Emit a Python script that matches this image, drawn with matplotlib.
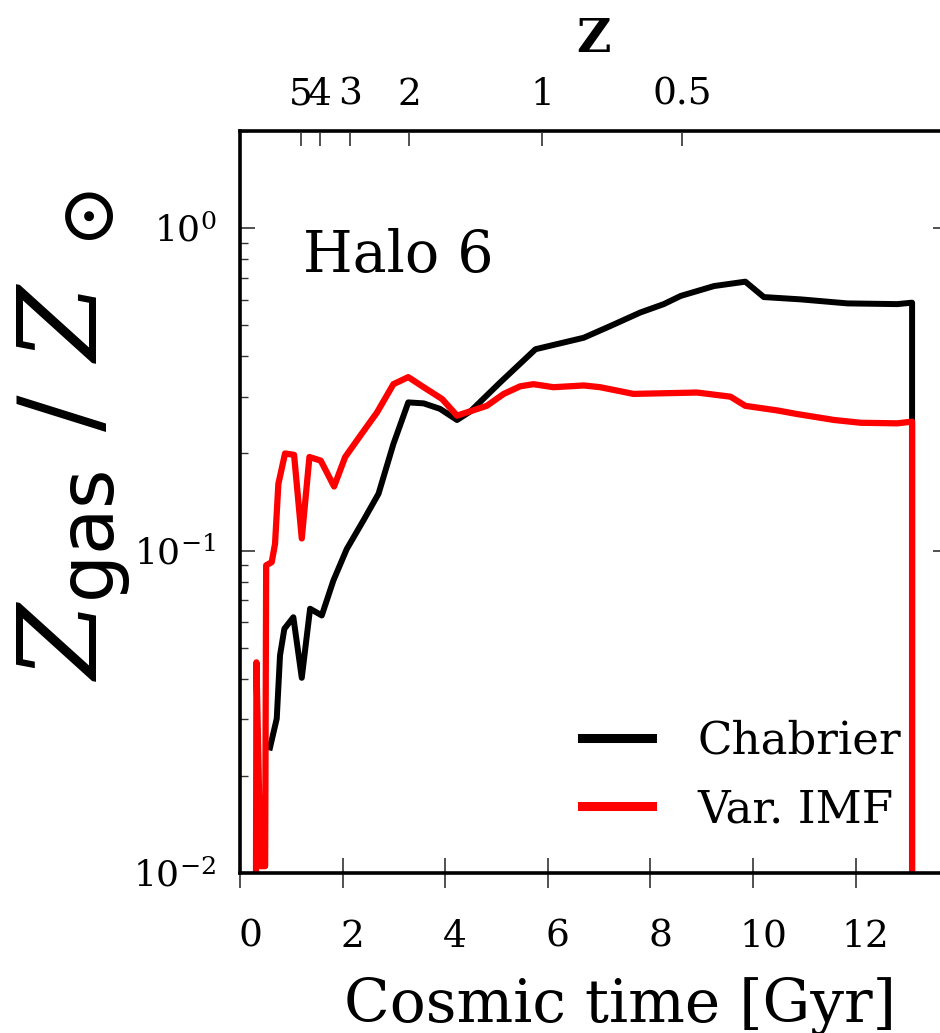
import numpy as np
import matplotlib
matplotlib.use('Agg')
from matplotlib import pyplot as plt
from matplotlib.transforms import ScaledTranslation

# gas metallicity (in solar units) vs cosmic time
time_chab = [0.585, 0.716, 0.78, 0.865, 1.04, 1.204, 1.366, 1.594, 1.82, 2.08, 2.406,
             2.70, 2.99, 3.28, 3.58, 3.90, 4.23, 4.49, 5.07, 5.76, 6.70, 7.22, 7.80,
             8.26, 8.59, 9.24, 9.85, 10.21, 10.93, 11.84, 12.81, 13.1, 13.1]
z_chab = [0.0245, 0.0301, 0.0473, 0.0572, 0.0621, 0.0403, 0.066, 0.0629, 0.0807, 0.101,
          0.124, 0.150, 0.214, 0.288, 0.286, 0.275, 0.254, 0.270, 0.332, 0.421, 0.457,
          0.497, 0.547, 0.581, 0.616, 0.661, 0.682, 0.611, 0.601, 0.584, 0.581, 0.587, 0.001]

time_var = [0.30, 0.32, 0.40, 0.49, 0.51, 0.618, 0.683, 0.748, 0.878, 1.054, 1.204,
            1.353, 1.574, 1.834, 2.05, 2.37, 2.67, 2.99, 3.28, 3.58, 3.94, 4.23, 4.81,
            5.14, 5.46, 5.72, 6.11, 6.70, 7.02, 7.67, 8.91, 9.56, 9.85, 10.47, 10.86,
            11.58, 12.10, 12.81, 13.1, 13.1]
z_var = [0.001, 0.045, 0.0105, 0.0105, 0.09, 0.092, 0.105, 0.161, 0.200, 0.198, 0.109,
         0.195, 0.190, 0.158, 0.195, 0.230, 0.268, 0.328, 0.345, 0.321, 0.295, 0.262,
         0.281, 0.306, 0.323, 0.328, 0.321, 0.325, 0.321, 0.306, 0.309, 0.300, 0.281,
         0.272, 0.265, 0.254, 0.249, 0.248, 0.251, 0.001]

# redshift axis on top
redshift_time = [1.18, 1.56, 2.15, 3.30, 5.89, 8.62]
redshift_labels = ['5', '4', '3', '2', '1', '0.5']
time_ticks = [0, 2, 4, 6, 8, 10, 12]

plt.rcParams['font.family'] = 'DejaVu Serif'
plt.rcParams['mathtext.fontset'] = 'dejavuserif'

fig = plt.figure(figsize=(9.4, 10.33), dpi=100)
ax = fig.add_axes([240/940., 160/1033., 708/940., 742/1033.])

ax.plot(time_chab, z_chab, color='black', lw=4.3, label='Chabrier')
ax.plot(time_var, z_var, color='red', lw=4.5, label='Var. IMF')

ax.set_yscale('log')
ax.set_xlim(0, 13.8)
ax.set_ylim(0.01, 2.0)

for s in ax.spines.values():
    s.set_linewidth(2.6)

ax.set_xticks(time_ticks)
ax.tick_params(axis='x', which='major', direction='inout', length=21.6, width=1.2,
               color='#333333', labelsize=27, pad=22, top=False)
ax.tick_params(axis='y', which='major', direction='in', length=10.8, width=1.2,
               color='#333333', labelsize=26, pad=17, right=True)
ax.tick_params(axis='y', which='minor', direction='in', length=5.8, width=1.0,
               color='#333333', right=True)
offset = ScaledTranslation(10/100., 0, fig.dpi_scale_trans)
for lab in ax.get_xticklabels():
    lab.set_transform(lab.get_transform() + offset)

ax.set_xlabel('Cosmic time [Gyr]', fontsize=43)
ax.xaxis.set_label_coords(0.537, -0.14)
ax.set_ylabel(r'$Z_{\mathsf{gas}}\ /\ Z_{\ \odot}$', fontsize=78)
ax.yaxis.set_label_coords(-0.152, 0.59)

ax2 = ax.twiny()
ax2.set_xlim(ax.get_xlim())
ax2.set_xticks(redshift_time)
ax2.set_xticklabels(redshift_labels)
ax2.tick_params(axis='x', direction='in', length=10.8, width=1.2, color='#333333',
                labelsize=27, pad=13)
ax2.set_xlabel('Z', fontsize=34, fontweight='bold', labelpad=18)

ax.text(0.089, 0.810, 'Halo 6', transform=ax.transAxes, fontsize=41, va='baseline')

leg = ax.legend(loc='upper left', bbox_to_anchor=(0.483, 0.207), frameon=False,
                fontsize=32.5, handlelength=1.55, handletextpad=1.0, borderpad=0,
                borderaxespad=0, labelspacing=0.56)
for line in leg.get_lines():
    line.set_linewidth(6.5)

fig.savefig('out.png', dpi=100)
